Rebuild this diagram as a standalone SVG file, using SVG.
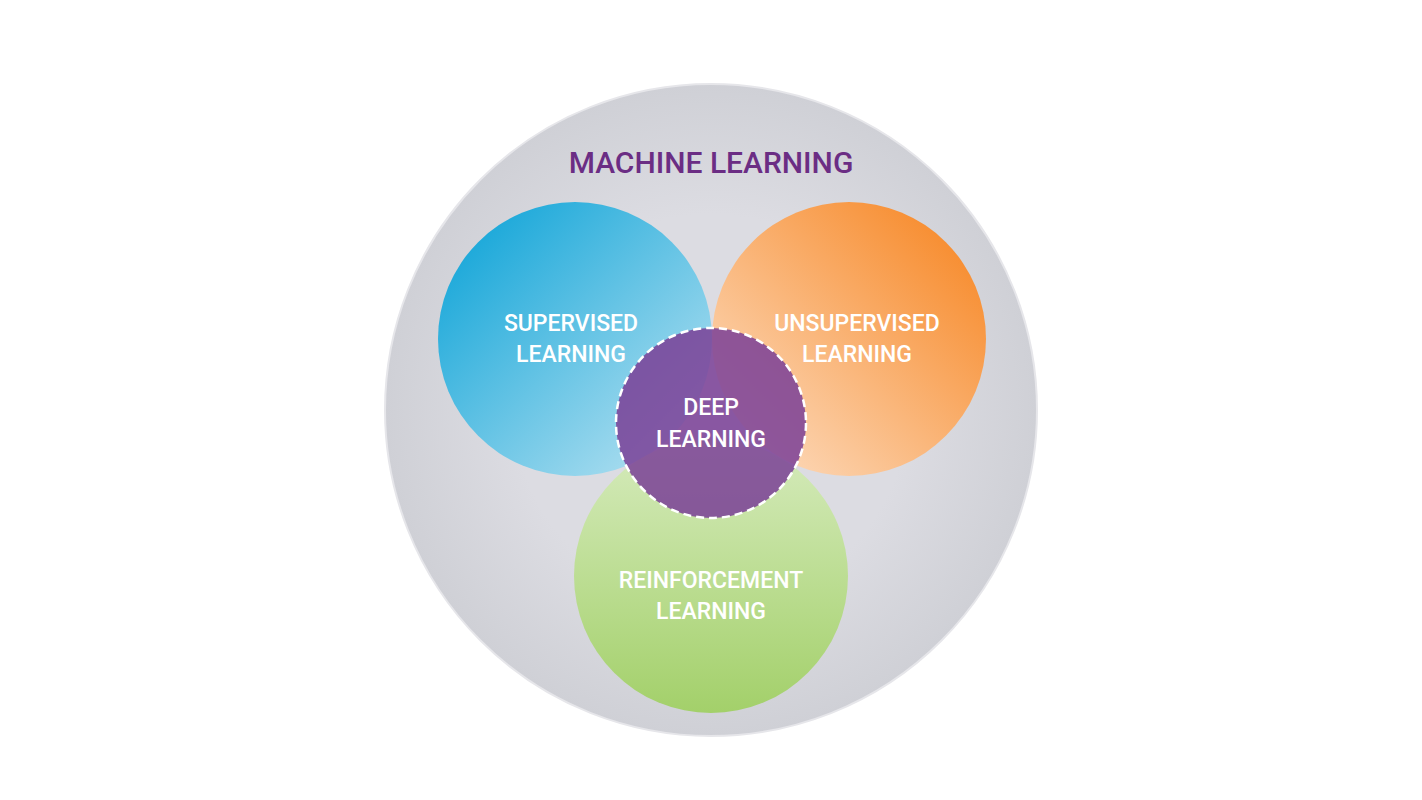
<svg xmlns="http://www.w3.org/2000/svg" width="1422" height="800" viewBox="0 0 1422 800">
<style>
.lbl{font-family:"Roboto","Liberation Sans",sans-serif;font-size:23px;font-weight:500;fill:#fff;text-anchor:middle}
.title{font-family:"Roboto","Liberation Sans",sans-serif;font-size:30px;font-weight:500;fill:#6b2d84;text-anchor:middle}
</style>
<defs>
<linearGradient id="gb" x1="0" y1="0" x2="1" y2="1"><stop offset="0.1" stop-color="#17a7d9"/><stop offset="1" stop-color="#c3e6f3"/></linearGradient>
<linearGradient id="go" x1="1" y1="0" x2="0" y2="1"><stop offset="0.1" stop-color="#f78b2c"/><stop offset="1" stop-color="#fde3cc"/></linearGradient>
<linearGradient id="gg" x1="0" y1="0" x2="0" y2="1"><stop offset="0" stop-color="#d6ebbd"/><stop offset="1" stop-color="#a3d06a"/></linearGradient>
<radialGradient id="gm" cx="0.5" cy="0.5" r="0.5"><stop offset="0.6" stop-color="#dcdce2"/><stop offset="1" stop-color="#cfd0d6"/></radialGradient>
</defs>
<rect width="1422" height="800" fill="#fff"/>
<g id="machine-learning">
<circle cx="711" cy="410" r="326" fill="url(#gm)" stroke="#e6e6ea" stroke-width="2"/>
<text class="title" x="711" y="173">MACHINE LEARNING</text>
</g>
<g id="supervised"><circle cx="575" cy="339" r="137" fill="url(#gb)"/>
<text class="lbl" x="571" y="331">SUPERVISED</text><text class="lbl" x="571" y="362">LEARNING</text></g>
<g id="unsupervised"><circle cx="849" cy="339" r="137" fill="url(#go)"/>
<text class="lbl" x="857" y="331">UNSUPERVISED</text><text class="lbl" x="857" y="362">LEARNING</text></g>
<g id="reinforcement"><circle cx="711" cy="576" r="137" fill="url(#gg)"/>
<text class="lbl" x="711" y="588">REINFORCEMENT</text><text class="lbl" x="711" y="619">LEARNING</text></g>
<g id="deep"><circle cx="711" cy="423" r="95" fill="#7a3f96" fill-opacity="0.85" stroke="#fff" stroke-width="2.5" stroke-dasharray="8 5"/>
<text class="lbl" x="711" y="415">DEEP</text><text class="lbl" x="711" y="447">LEARNING</text></g>
<g id="connectors"/>
</svg>
